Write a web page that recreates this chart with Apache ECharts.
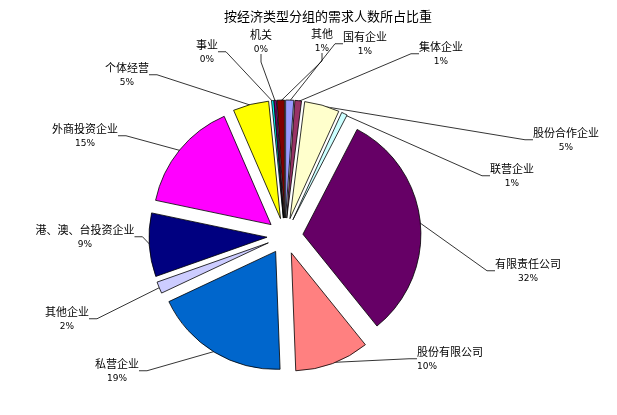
<!DOCTYPE html>
<html>
<head>
<meta charset="utf-8">
<script src="https://cdn.jsdelivr.net/npm/echarts@6/dist/echarts.min.js"></script>
<style>
html,body{margin:0;padding:0;background:#fff;}
#chart{width:617px;height:415px;}
</style>
</head>
<body>
<div id="chart"></div>
<script>
// 经济类型
var categories = ['国有企业', '集体企业', '股份合作企业', '联营企业', '有限责任公司', '股份有限公司', '私营企业',
    '其他企业', '港、澳、台投资企业', '外商投资企业', '个体经营', '事业', '机关', '其他'];
// 需求人数所占比重(%)
var shares = [1.1, 0.9, 4.8, 0.8, 31.6, 10.2, 18.6, 1.6, 8.7, 15.2, 4.9, 0.3, 0.3, 1.0];

var colors = ['#9999FF', '#993366', '#FFFFCC', '#CCFFFF', '#660066', '#FF8080', '#0066CC',
    '#CCCCFF', '#000080', '#FF00FF', '#FFFF00', '#00FFFF', '#800080', '#800000'];
// 标签中心位置
var labelAt = [[365, 44], [441, 54], [566, 140], [512, 176], [528, 271], [417, 359], [117, 371],
    [67, 319], [85, 237], [85, 136], [127, 75], [207, 52], [261, 42], [322, 41]];

var pieData = categories.map(function (name, i) {
    return { name: name, value: shares[i], selected: true, itemStyle: { color: colors[i] } };
});
// 仅用于标签和引导线的透明饼图
var labelData = categories.map(function (name, i) {
    return { name: name, value: shares[i] };
});

var myChart = echarts.init(document.getElementById('chart'));
myChart.setOption({
    animation: false,
    title: {
        text: '按经济类型分组的需求人数所占比重',
        left: 323,
        top: 5,
        textAlign: 'center',
        textStyle: { fontFamily: 'Noto Sans CJK SC', fontSize: 13, fontWeight: 'normal', color: '#000' }
    },
    series: [{
        type: 'pie',
        center: [285, 236],
        radius: 118,
        startAngle: 90,
        clockwise: true,
        selectedMode: 'multiple',
        selectedOffset: 18,
        emphasis: { disabled: true },
        itemStyle: { borderColor: '#000', borderWidth: 0.8 },
        select: { itemStyle: { borderColor: '#000', borderWidth: 0.8 } },
        label: { show: false },
        labelLine: { show: false },
        data: pieData
    }, {
        type: 'pie',
        silent: true,
        center: [285, 236],
        radius: 135,
        startAngle: 90,
        clockwise: true,
        avoidLabelOverlap: false,
        emphasis: { disabled: true },
        itemStyle: { color: 'rgba(0,0,0,0)', borderWidth: 0 },
        label: {
            show: true,
            position: 'outside',
            color: '#000',
            formatter: function (p) {
                return '{n|' + p.name + '}\n{v|' + Math.round(p.percent) + '%}';
            },
            rich: {
                n: { fontFamily: 'Noto Sans CJK SC', fontSize: 11, lineHeight: 15, color: '#000' },
                v: { fontFamily: 'DejaVu Sans', fontSize: 9, lineHeight: 14, color: '#000' }
            }
        },
        labelLine: {
            show: true,
            length: 10,
            length2: 8,
            lineStyle: { color: '#000', width: 0.8 }
        },
        labelLayout: function (p) {
            var pos = labelAt[p.dataIndex];
            var left = p.dataIndex === 5;
            return {
                x: pos[0],
                y: pos[1],
                align: left ? 'left' : 'center',
                verticalAlign: 'middle'
            };
        },
        data: labelData
    }]
});
</script>
</body>
</html>
